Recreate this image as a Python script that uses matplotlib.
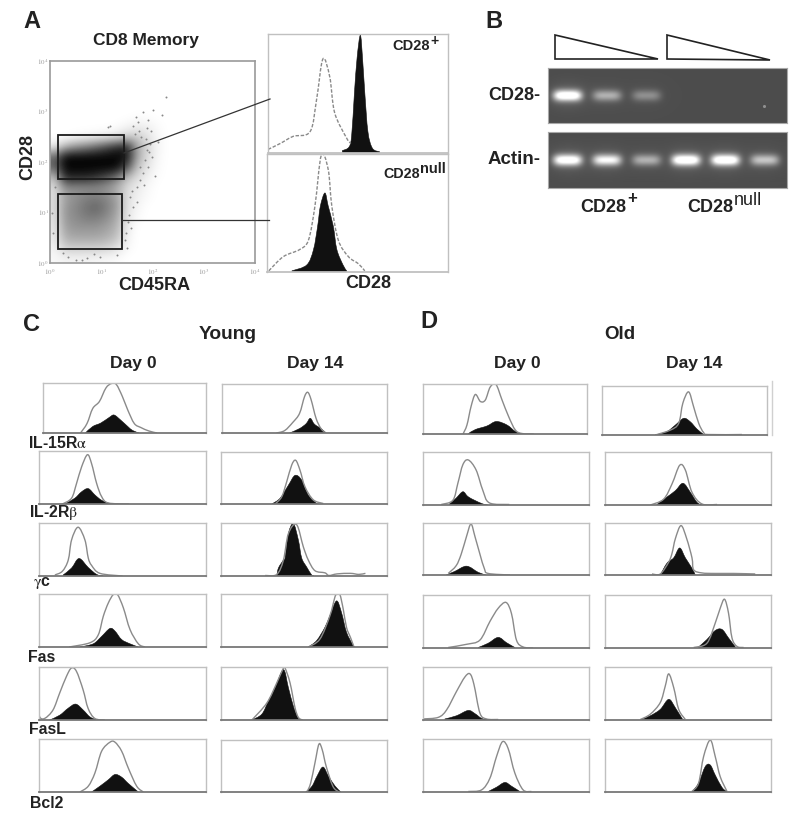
import numpy as np
import matplotlib
matplotlib.use("Agg")
import matplotlib.pyplot as plt
from matplotlib.patches import PathPatch, Polygon, Rectangle
from matplotlib.path import Path

plt.rcParams["font.family"] = ["Liberation Sans", "DejaVu Sans"]
plt.rcParams["mathtext.fontset"] = "stix"

W, H = 800, 821
TEXT_COL = "#222222"

# Panel A: CD45RA vs CD28 density, rows run from 4 decades down to 0, cells are 0.2 decade
DENSITY = [
    [0] * 20,
    [0] * 20,
    [0] * 20,
    [0] * 20,
    [0] * 20,
    [0, 0, 0, 0, 0, 0, 0, 0, .01, .01, 0, 0, 0, 0, 0, 0, 0, 0, 0, 0],
    [0, 0, 0, 0, 0, 0, .01, .04, .07, .06, .02, 0, 0, 0, 0, 0, 0, 0, 0, 0],
    [0, 0, .02, .03, .05, .07, .1, .18, .2, .12, .03, 0, 0, 0, 0, 0, 0, 0, 0, 0],
    [.08, .3, .42, .5, .6, .72, .85, .9, .35, .16, .04, 0, 0, 0, 0, 0, 0, 0, 0, 0],
    [.6, 1, 1, 1, 1, 1, 1, .95, .34, .14, .03, 0, 0, 0, 0, 0, 0, 0, 0, 0],
    [.62, 1, 1, 1, 1, 1, 1, .72, .24, .1, .02, 0, 0, 0, 0, 0, 0, 0, 0, 0],
    [.26, .88, .88, .88, .82, .72, .56, .26, .14, .06, .01, 0, 0, 0, 0, 0, 0, 0, 0, 0],
    [.14, .46, .46, .46, .46, .42, .32, .15, .08, .03, 0, 0, 0, 0, 0, 0, 0, 0, 0, 0],
    [.14, .38, .44, .5, .52, .48, .38, .13, .06, .02, 0, 0, 0, 0, 0, 0, 0, 0, 0, 0],
    [.14, .42, .48, .56, .62, .52, .4, .12, .04, 0, 0, 0, 0, 0, 0, 0, 0, 0, 0, 0],
    [.12, .42, .46, .52, .52, .46, .35, .1, .02, 0, 0, 0, 0, 0, 0, 0, 0, 0, 0, 0],
    [.1, .38, .42, .42, .42, .38, .3, .08, 0, 0, 0, 0, 0, 0, 0, 0, 0, 0, 0, 0],
    [.08, .32, .35, .35, .35, .32, .25, .05, 0, 0, 0, 0, 0, 0, 0, 0, 0, 0, 0, 0],
    [.05, .2, .2, .2, .2, .18, .12, .03, 0, 0, 0, 0, 0, 0, 0, 0, 0, 0, 0, 0],
    [.03, .05, .05, .05, .04, .03, .02, 0, 0, 0, 0, 0, 0, 0, 0, 0, 0, 0, 0, 0],
]
STRAY_X = [1.82, 2.0, 1.92, 1.72, 1.13, 2.19, 2.27, 1.89, 1.92, 1.76, 1.62, 1.57, 1.17, .25, .98, .04,
           1.89, 1.99, 1.85, 1.76, 1.82, 1.7, 1.66, 1.78, 1.95, 1.6, 1.52, 1.7, 1.84, 1.55, .5, .72, 1.48, 2.05,
           1.98, 1.88, 1.74, 1.62, 1.68, 1.94, 2.1, 1.58, 1.46, .1, .06, .35, .62, .85, 1.3, 1.5]
STRAY_Y = [2.99, 3.03, 2.83, 2.79, 2.69, 2.93, 3.29, 2.67, 1.9, 1.64, 1.11, 1.3, 2.71, .2, .12, .99,
           2.24, 2.1, 2.04, 1.9, 1.78, 1.5, 2.55, 2.5, 2.35, 1.42, .82, 1.2, 1.55, .95, .06, .1, .6, 1.72,
           2.62, 2.45, 2.62, 2.72, 2.9, 2.2, 2.4, .7, .45, 1.5, .6, .12, .05, .18, .15, .3]
GATE_POS = [(.16, 1.66, 1.29, .87), (.16, .28, 1.25, 1.09)]

# Panel A histograms, (channel %, count %)
A_POS_OPEN = [(0, 3), (6.8, 8), (14, 14), (23.4, 18), (27, 45), (30.5, 79), (34.3, 64), (37, 34), (43.5, 13), (46, 8)]
A_POS_FILL = [(41.3, 2), (45, 5), (46.5, 15), (48, 50), (49.5, 80), (51.3, 99), (52.5, 80), (53.8, 50), (55.5, 18), (58, 4), (62, 1)]
A_NULL_OPEN = [(1, 1), (9, 13), (18, 19), (22.9, 27), (26.5, 56), (30, 99), (33.8, 87), (35.8, 56), (39.4, 27),
               (45, 13), (50.5, 7), (54, 1)]
A_NULL_FILL = [(13.8, 1), (22, 6), (25.7, 19), (28, 39), (29.5, 56), (32, 67), (33.8, 56), (36.6, 39), (38.6, 19), (42, 6), (44, 1)]

# Panel B band brightness per lane
CD28_BANDS = [1.0, .45, .3, 0, 0, 0]
ACTIN_BANDS = [.95, .8, .45, 1.0, 1.0, .55]

# Panels C and D, (channel %, count %)
Y0_IL15_OPEN = [(23, 0), (27, 19), (30.5, 49), (34.6, 63), (38.6, 90), (42, 99), (45, 97), (48.7, 73), (52, 46), (56, 19), (60, 11), (65, 4), (70, 0)]
Y0_IL15_FILL = [(26, 0), (30.5, 13), (35.5, 20), (40.6, 31), (43.6, 36), (47.6, 26), (52, 13), (55, 5), (59, 0)]
Y14_IL15_OPEN = [(33, 0), (38, 5), (43, 22), (47, 40), (50, 74), (52, 83), (54, 68), (57, 30), (60, 9), (63, 0)]
Y14_IL15_FILL = [(41, 0), (47, 9), (51, 19), (53.5, 30), (56, 18), (60, 9), (63, 0)]
Y0_IL2_OPEN = [(14, 0), (19.5, 11), (22.5, 39), (25.5, 70), (29, 93), (31.5, 76), (34.5, 39), (37.5, 14), (41.5, 2), (54, 0)]
Y0_IL2_FILL = [(16, 1), (21.5, 11), (25.5, 23), (29.5, 29), (33.5, 17), (37.5, 7), (42.5, 1), (47.5, 0)]
Y14_IL2_OPEN = [(32.6, 0), (36.6, 14), (39.6, 43), (42.6, 75), (45, 84), (47.6, 65), (50.6, 33), (55.6, 8), (61.6, 1)]
Y14_IL2_FILL = [(30.6, 0), (35.6, 11), (40.6, 36), (44.6, 55), (48.6, 46), (52.6, 17), (57.6, 1), (59, 0)]
Y0_GC_OPEN = [(9.5, 2), (14, 9), (17.5, 30), (19.5, 68), (23.4, 92), (27.5, 68), (29.5, 34), (31.5, 20), (36.5, 5), (50, 0)]
Y0_GC_FILL = [(14.5, 2), (19.5, 15), (24, 33), (29.5, 16), (34.5, 3), (38.5, 0)]
Y14_GC_OPEN = [(26.6, 1), (33.6, 3), (37.6, 30), (40.6, 80), (45.5, 97), (49.6, 55), (52.6, 30), (56.6, 10), (62.6, 6), (65, 1), (70, 4), (78, 5), (83, 3), (87, 5)]
Y14_GC_FILL = [(33.6, 0), (34.6, 15), (37.6, 30), (38.6, 34), (40.6, 80), (43.6, 99), (46.6, 68), (48.6, 34), (51.6, 17), (54.6, 2), (56, 0)]
Y0_FAS_OPEN = [(18, 0), (30.5, 8), (35.5, 23), (38.5, 58), (41.5, 83), (44.5, 99), (47, 99), (50.5, 74), (54.5, 33), (59.5, 6), (63.5, 0)]
Y0_FAS_FILL = [(24.5, 0), (32.5, 6), (37.5, 20), (42.5, 35), (45.5, 30), (49.5, 14), (54.5, 6), (59.5, 0)]
Y14_FAS_OPEN = [(52.6, 0), (59.6, 15), (65.6, 59), (68.6, 94), (69.6, 99), (71.6, 99), (73.6, 72), (75.6, 37), (78, 18), (80, 1)]
Y14_FAS_FILL = [(52.6, 0), (57.6, 12), (62.6, 37), (65.6, 59), (69.6, 87), (72.6, 65), (75.6, 28), (79.6, 3), (80.5, 0)]
Y0_FASL_OPEN = [(0, 28), (.4, 6), (3.4, 3), (8.4, 19), (12.4, 51), (16.4, 82), (19.4, 98), (22.4, 92), (26.4, 57), (29.4, 22), (33.4, 3), (39.4, 0)]
Y0_FASL_FILL = [(6.4, 0), (12.4, 9), (17.4, 22), (22, 30), (26.4, 19), (30.4, 6), (34.4, 0)]
Y14_FASL_OPEN = [(18.6, 0), (27.6, 32), (33.6, 70), (37.6, 98), (38.6, 98), (41.6, 70), (44.6, 23), (46.6, 5), (49, 0)]
Y14_FASL_FILL = [(18.6, 0), (24.6, 11), (28.6, 36), (32.6, 61), (37.6, 95), (40.6, 61), (43.6, 26), (46.6, 3), (49, 0)]
Y0_BCL2_OPEN = [(24.5, 0), (29.5, 11), (33.5, 36), (37.5, 77), (42.5, 94), (45.5, 94), (49.5, 77), (53.5, 45), (58.5, 11), (62.5, 0)]
Y0_BCL2_FILL = [(31.5, 0), (36.5, 11), (41.5, 23), (45.5, 33), (49.5, 28), (53.5, 16), (59.5, 0)]
Y14_BCL2_OPEN = [(51.8, 0), (54, 17), (56.6, 56), (59, 92), (61, 81), (63.4, 49), (67.4, 11), (71, 0)]
Y14_BCL2_FILL = [(51, 0), (54.8, 11), (57.8, 30), (61.4, 48), (64.8, 30), (68.8, 11), (72.2, 0)]

O0_IL15_OPEN = [(24.4, 0), (26.8, 18), (29.3, 55), (31.9, 79), (35, 65), (38, 68), (41, 94), (44.5, 99), (48.2, 68), (52.2, 35), (56.3, 8), (60.4, 1), (67.5, 0)]
O0_IL15_FILL = [(27.8, 1), (32, 9), (39, 16), (44.7, 25), (51.2, 18), (56.3, 5), (60.4, 0)]
O14_IL15_OPEN = [(32.3, 0), (41.4, 10), (46.5, 24), (49, 65), (52.5, 88), (55.5, 58), (58.6, 24), (61.6, 5), (64.6, 1), (84.8, 1)]
O14_IL15_FILL = [(32.3, 0), (39.4, 7), (44.4, 20), (49.5, 34), (53.5, 27), (57.6, 12), (61.6, 1)]
O0_IL2_OPEN = [(11, 1), (18, 9), (21, 41), (24, 76), (27.3, 85), (32, 66), (36, 28), (40, 4), (52, 1)]
O0_IL2_FILL = [(16, 2), (20, 13), (24, 25), (27, 16), (31, 9), (36, 2), (39, 0)]
O14_IL2_OPEN = [(27.3, 0), (35.3, 11), (40.4, 40), (45, 75), (48.4, 66), (52.4, 24), (58.4, 2), (67.5, 1)]
O14_IL2_FILL = [(31.3, 1), (37.3, 15), (42.4, 27), (47, 41), (51.4, 24), (55.4, 5), (58.4, 0)]
O0_GC_OPEN = [(15.2, 3), (20, 18), (23, 40), (26.2, 74), (28.9, 98), (31.3, 74), (34.3, 40), (37, 12), (39.3, 3), (52.4, 0)]
O0_GC_FILL = [(14, 0), (19.2, 7), (26.3, 17), (33.3, 5), (38, 0)]
O14_GC_OPEN = [(28.3, 2), (33.3, 2), (38.4, 25), (40.4, 42), (42.4, 70), (45.8, 95), (49.2, 70), (52.4, 33), (53.4, 10), (58.4, 4), (66, 3), (77.5, 3), (90.5, 2)]
O14_GC_FILL = [(33.3, 0), (37.4, 23), (41.4, 33), (45, 52), (48.4, 33), (52.4, 13), (54.4, 0)]
O0_FAS_OPEN = [(15.2, 1), (26.3, 7), (34.3, 15), (40.3, 50), (45.3, 75), (50, 86), (53.3, 65), (56.3, 15), (60.3, 2), (66.3, 0)]
O0_FAS_FILL = [(33.3, 1), (39.3, 9), (45.3, 20), (50.3, 10), (55.3, 1)]
O14_FAS_OPEN = [(53.4, 1), (61.4, 9), (66.4, 47), (69.4, 75), (72, 92), (74.4, 66), (76.5, 19), (79.5, 3), (83.5, 1)]
O14_FAS_FILL = [(56.4, 2), (61.4, 16), (66.4, 33), (70.5, 35), (74.4, 19), (78.5, 2)]
O0_FASL_OPEN = [(0, 2), (9.2, 5), (14.2, 19), (20.2, 54), (25.2, 81), (28.3, 87), (30.7, 67), (34.3, 13), (38.3, 2), (45.3, 1)]
O0_FASL_FILL = [(13.2, 2), (20.2, 8), (27.2, 18), (31.3, 12), (35.3, 3), (39.3, 0)]
O14_FASL_OPEN = [(21.3, 1), (27.3, 11), (33.3, 33), (36.3, 64), (38.4, 87), (41.4, 61), (44.4, 20), (48.4, 1)]
O14_FASL_FILL = [(21.3, 0), (27.3, 8), (33.3, 20), (38.4, 39), (42.4, 23), (46.4, 3), (47.5, 0)]
O0_BCL2_OPEN = [(27.3, 1), (35.3, 4), (40.3, 26), (44.3, 67), (47.9, 95), (51.3, 82), (55.3, 36), (60.3, 4), (65.3, 1)]
O0_BCL2_FILL = [(39.3, 1), (44.3, 9), (49.3, 18), (53.3, 11), (58.3, 1)]
O14_BCL2_OPEN = [(52.4, 1), (56.4, 17), (59.4, 67), (63.4, 98), (66.4, 67), (69.4, 29), (73.5, 1)]
O14_BCL2_FILL = [(52.4, 0), (56.4, 17), (60.4, 48), (63.4, 51), (66.4, 32), (70.4, 9), (73.5, 0)]

ROW_LABELS = [r"IL-15R$\mathrm{\alpha}$", r"IL-2R$\mathrm{\beta}$", r"$\mathrm{\gamma}$c", "Fas", "FasL", "Bcl2"]
DECADE_LABELS = [r"$10^{0}$", r"$10^{1}$", r"$10^{2}$", r"$10^{3}$", r"$10^{4}$"]


def px_axes(fig, x0, y0, x1, y1):
    return fig.add_axes([x0 / W, 1 - y1 / H, (x1 - x0) / W, (y1 - y0) / H])


def label(fig, x, y, s, size=13, ha="center", **kw):
    fig.text(x / W, 1 - y / H, s, fontsize=size, ha=ha, va="center", fontweight="bold", color=TEXT_COL, **kw)


def curve_path(points, close=False):
    # round the outline through the read points with bezier segments
    pts = np.array(points, dtype=float)
    verts = [pts[0]]
    codes = [Path.MOVETO]
    for i in range(len(pts) - 1):
        before = pts[max(i - 1, 0)]
        after = pts[min(i + 2, len(pts) - 1)]
        verts += [pts[i] + (pts[i + 1] - before) / 6, pts[i + 1] - (after - pts[i]) / 6, pts[i + 1]]
        codes += [Path.CURVE4] * 3
    if close:
        verts += [(pts[-1][0], 0), (pts[0][0], 0), pts[0]]
        codes += [Path.LINETO, Path.LINETO, Path.CLOSEPOLY]
    return Path(verts, codes)


def hist_panel(fig, box, open_curve, fill_curve, dashed=False):
    ax = px_axes(fig, *box)
    ax.add_patch(PathPatch(curve_path(fill_curve, close=True), fc="#111111", ec="#111111", lw=0.4))
    line_style = (0, (2.5, 1.2)) if dashed else "-"
    ax.add_patch(PathPatch(curve_path(open_curve), fc="none", ec="#8a8a8a", lw=1.0, ls=line_style))
    ax.set_xlim(0, 100)
    ax.set_ylim(0, 100)
    ax.set_xticks([])
    ax.set_yticks([])
    for name, spine in ax.spines.items():
        spine.set_color("#777777" if name == "bottom" and not dashed else "#c0c0c0")
        spine.set_linewidth(1.3 if name == "bottom" else 1.0)
    return ax


def gel_panel(fig, box, bands, spot=None):
    ax = px_axes(fig, *box)
    xs = np.linspace(.507, 6.58, 480)
    ys = np.linspace(0, 1, 110)
    xx, yy = np.meshgrid(xs, ys)
    img = np.full(xx.shape, .3)
    for lane, level in enumerate(bands, start=1):
        shape = np.exp(-((xx - lane) / .36) ** 4) * np.exp(-((yy - .5) / .1) ** 2)
        img += level * .8 * shape + level * .08 * np.exp(-((xx - lane) / .5) ** 2) * np.exp(-((yy - .5) / .25) ** 2)
    ax.imshow(img, extent=[xs[0], xs[-1], 1, 0], cmap="gray", vmin=0, vmax=1, aspect="auto", interpolation="bilinear")
    if spot:
        ax.scatter(*spot, s=5, color="#8f8f8f", lw=0)
    ax.set_xticks([])
    ax.set_yticks([])
    for spine in ax.spines.values():
        spine.set_color("#a8a8a8")
    return ax


def main() -> None:
    fig = plt.figure(figsize=(W / 100, H / 100), dpi=100, facecolor="white")

    # overlay in pixel units for the connector lines and wedges
    over = fig.add_axes([0, 0, 1, 1], zorder=5)
    over.set_xlim(0, W)
    over.set_ylim(H, 0)
    over.axis("off")

    # Panel A scatter
    ax = px_axes(fig, 50, 61, 255, 263)
    ax.imshow(np.array(DENSITY), extent=[0, 4, 0, 4], cmap="gray_r", vmin=0, vmax=1.02, aspect="auto", interpolation="bicubic")
    ax.scatter(STRAY_X, STRAY_Y, s=2, color="#888888", lw=0)
    for gx, gy, gw, gh in GATE_POS:
        ax.add_patch(Rectangle((gx, gy), gw, gh, fill=False, ec="#1a1a1a", lw=1.3))
    ax.set_xlim(0, 4)
    ax.set_ylim(0, 4)
    ax.set_xticks(range(5), DECADE_LABELS)
    ax.set_yticks(range(5), DECADE_LABELS)
    ax.tick_params(length=0, labelsize=5, labelcolor="#999999")
    ax.tick_params(axis="x", pad=3)
    ax.tick_params(axis="y", pad=1)
    for spine in ax.spines.values():
        spine.set_color("#9a9a9a")
        spine.set_linewidth(1.2)

    over.plot([124, 270], [153, 99], color="#333333", lw=0.9)
    over.plot([122, 269], [220, 220], color="#333333", lw=0.9)

    hist_panel(fig, (268, 34, 448, 153), A_POS_OPEN, A_POS_FILL, dashed=True)
    hist_panel(fig, (267, 154, 448, 272), A_NULL_OPEN, A_NULL_FILL, dashed=True)

    label(fig, 32, 22, "A", size=17)
    label(fig, 146, 40, "CD8 Memory", size=12.5)
    label(fig, 28, 157, "CD28", size=13, rotation=90)
    label(fig, 154, 285, "CD45RA", size=13)
    label(fig, 368, 283, "CD28", size=13)
    label(fig, 392, 46, "CD28", size=10.5, ha="left")
    label(fig, 435, 41, "+", size=10)
    label(fig, 383, 174, "CD28", size=10.3, ha="left")
    label(fig, 420, 169, "null", size=10.5, ha="left")

    # Panel B
    gel_panel(fig, (548, 68, 787, 123), CD28_BANDS, spot=(6.0, .69))
    gel_panel(fig, (548, 132, 787, 188), ACTIN_BANDS)
    for tri in ([(555, 35), (555, 59), (658, 59)], [(667, 35), (667, 59), (770, 60)]):
        over.add_patch(Polygon(tri, closed=True, fill=False, ec="#222222", lw=1.2))
    label(fig, 488, 95, "CD28-", ha="left")
    label(fig, 488, 160, "Actin-", size=13.5, ha="left")
    label(fig, 494, 21, "B", size=17)
    label(fig, 603, 208, "CD28")
    label(fig, 632, 198, "+", size=12)
    label(fig, 710, 208, "CD28")
    fig.text(734 / W, 1 - 200 / H, "null", fontsize=13, ha="left", va="center", color=TEXT_COL)

    # Panels C and D
    young_rows = [(383, 433), (451, 504), (523, 576), (594, 647), (667, 720), (739, 792)]
    old_rows = [(384, 434), (452, 505), (523, 575), (595, 648), (667, 720), (739, 792)]
    young0 = [(Y0_IL15_OPEN, Y0_IL15_FILL), (Y0_IL2_OPEN, Y0_IL2_FILL), (Y0_GC_OPEN, Y0_GC_FILL),
              (Y0_FAS_OPEN, Y0_FAS_FILL), (Y0_FASL_OPEN, Y0_FASL_FILL), (Y0_BCL2_OPEN, Y0_BCL2_FILL)]
    young14 = [(Y14_IL15_OPEN, Y14_IL15_FILL), (Y14_IL2_OPEN, Y14_IL2_FILL), (Y14_GC_OPEN, Y14_GC_FILL),
               (Y14_FAS_OPEN, Y14_FAS_FILL), (Y14_FASL_OPEN, Y14_FASL_FILL), (Y14_BCL2_OPEN, Y14_BCL2_FILL)]
    old0 = [(O0_IL15_OPEN, O0_IL15_FILL), (O0_IL2_OPEN, O0_IL2_FILL), (O0_GC_OPEN, O0_GC_FILL),
            (O0_FAS_OPEN, O0_FAS_FILL), (O0_FASL_OPEN, O0_FASL_FILL), (O0_BCL2_OPEN, O0_BCL2_FILL)]
    old14 = [(O14_IL15_OPEN, O14_IL15_FILL), (O14_IL2_OPEN, O14_IL2_FILL), (O14_GC_OPEN, O14_GC_FILL),
             (O14_FAS_OPEN, O14_FAS_FILL), (O14_FASL_OPEN, O14_FASL_FILL), (O14_BCL2_OPEN, O14_BCL2_FILL)]

    for i in range(6):
        yt, yb = young_rows[i]
        x0 = 43 if i == 0 else 39
        hist_panel(fig, (x0, yt, 206, yb), *young0[i])
        hist_panel(fig, (222 if i == 0 else 221, yt + (1 if i in (0, 1, 5) else 0), 387, yb), *young14[i])
        yt, yb = old_rows[i]
        hist_panel(fig, (423, yt, 587 if i == 0 else 589, yb), *old0[i])
        xr = (602, 767) if i == 0 else (605, 771)
        hist_panel(fig, (xr[0], yt + (2 if i == 0 else 0), xr[1], yb + (1 if i == 0 else 0)), *old14[i])

    over.plot([772, 772], [381, 435], color="#d0d0d0", lw=1)

    label(fig, 32, 324, "C", size=17)
    label(fig, 429, 321, "D", size=17)
    label(fig, 228, 334, "Young", size=13.8)
    label(fig, 620, 334, "Old", size=13.5)
    for x, day in ((133, "Day 0"), (315, "Day 14"), (517, "Day 0"), (694, "Day 14")):
        label(fig, x, 363, day, size=12.6)

    row_x = [28, 29, 33, 28, 29, 30]
    row_y = [443, 513, 583, 657, 729, 803]
    for x, y, s in zip(row_x, row_y, ROW_LABELS):
        label(fig, x, y, s, size=11.4, ha="left")

    fig.savefig("out.png", dpi=100, facecolor="white")
    plt.close(fig)


if __name__ == "__main__":
    main()
